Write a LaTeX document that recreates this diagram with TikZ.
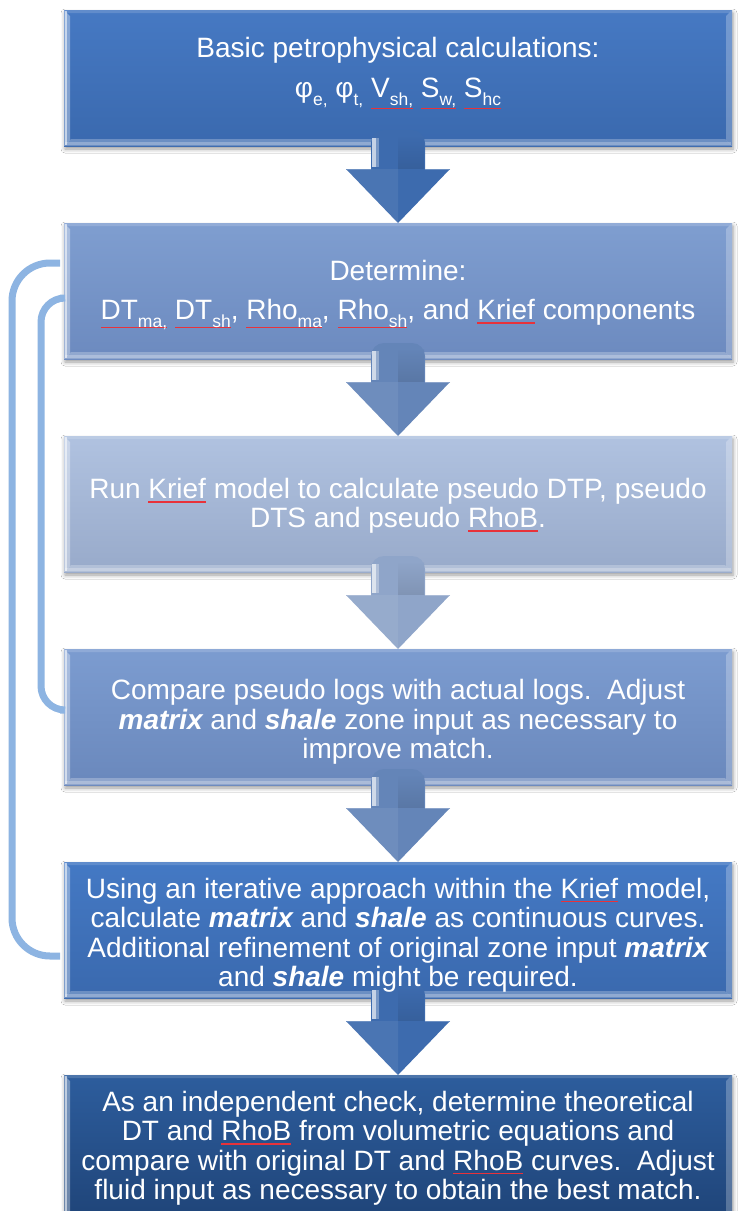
\documentclass[tikz,border=0pt]{standalone}
\usepackage{fontspec}
\setmainfont{Liberation Sans}
\usetikzlibrary{calc,shadows.blur}
\definecolor{bAt}{HTML}{4679C3}\definecolor{bAb}{HTML}{3A69AE}
\definecolor{bBt}{HTML}{7F9ED0}\definecolor{bBb}{HTML}{6C8ABF}
\definecolor{bCt}{HTML}{B0C2E0}\definecolor{bCb}{HTML}{98AACA}
\definecolor{bDt}{HTML}{7C9CD0}\definecolor{bDb}{HTML}{6A88BC}
\definecolor{bEt}{HTML}{4479C4}\definecolor{bEb}{HTML}{3A69AE}
\definecolor{bFt}{HTML}{2D5D9D}\definecolor{bFb}{HTML}{1F4478}
\definecolor{aA}{HTML}{3D6BAE}\definecolor{aB}{HTML}{6485B8}
\definecolor{aC}{HTML}{8FA5C9}
\definecolor{loopblue}{HTML}{8DB4E2}
\definecolor{spell}{HTML}{E8323A}
\newcommand\lowsub[1]{\raisebox{-0.28em}{\fontsize{17.5}{17.5}\selectfont #1}}
\newsavebox\sqbox
\newlength\sqdepth
\newcommand\squig[2][2.5pt]{\sbox\sqbox{#2}\setlength\sqdepth{#1}%
 \rlap{\tikz[baseline=0pt,x=1pt,y=1pt]\fill[spell] (0pt,-\sqdepth) rectangle (\wd\sqbox,-\sqdepth-1.6pt);}\usebox\sqbox}
\newcommand\bi[1]{{\bfseries\itshape #1}}
\newcommand\bevel[1]{%
 \fill[white,opacity=.25] (#1.south west) -- (#1.south east) -- ($(#1.south east)+(-7,7)$) -- ($(#1.south west)+(7,7)$) -- cycle;
 \fill[white,opacity=.25] ($(#1.south west)+(1,1)$) rectangle ($(#1.south east)+(-1,4)$);
 \fill[white,opacity=.15] (#1.north west) -- (#1.north east) -- ($(#1.north east)+(-3,-3)$) -- ($(#1.north west)+(3,-3)$) -- cycle;
 \fill[white,opacity=.25] (#1.north east) -- (#1.south east) -- ($(#1.south east)+(-6,6)$) -- ($(#1.north east)+(-6,-6)$) -- cycle;
 \fill[white,opacity=.35] (#1.north west) -- (#1.south west) -- ($(#1.south west)+(6,6)$) -- ($(#1.north west)+(6,-6)$) -- cycle;
 \fill[white,opacity=.55] ($(#1.north west)+(1,-1)$) rectangle ($(#1.south west)+(3,1)$);}
\newcommand\blockarrow[3]{%
 \fill[#3, rounded corners=13pt] ($(#1.south)+(-27,16)$) rectangle ($(#1.south)+(27,-42)$);
 \shade[left color=#3, right color=#3!80!black, shading angle=0, opacity=.5] ($(#1.south)+(0,10)$) rectangle ($(#1.south)+(26,-23)$);
 \fill[white,opacity=.7] ($(#1.south)+(-26,8)$) rectangle ($(#1.south)+(-22,-21)$);
 \fill[#3!70!white] ($(#1.south)+(-22,8)$) rectangle ($(#1.south)+(-19,-21)$);
 \fill[#3] ($(#1.south)+(-52,-23)$) -- ($(#1.south)+(52,-23)$) -- (#2.north) -- cycle;
 \fill[white,opacity=.07] ($(#1.south)+(-52,-23)$) -- ($(#1.south)+(0,-23)$) -- (#2.north) -- cycle;
 \draw[#3!75!white, line width=1pt] ($(#1.south)+(-52,-23)$) -- ($(#1.south)+(-27,-23)$) ($(#1.south)+(27,-23)$) -- ($(#1.south)+(52,-23)$);}
\tikzset{
 box/.style={rectangle, minimum width=668pt, minimum height=136pt, inner sep=0pt, outer sep=0pt,
   blur shadow={shadow xshift=1pt, shadow yshift=-3pt, shadow blur radius=4pt, shadow opacity=40}},
 txt/.style={text=white, align=center, font=\fontsize{28}{29.5}\selectfont, inner sep=0pt},
 loopline/.style={draw=loopblue, line width=7pt, rounded corners=38pt},
}
\begin{document}
\begin{tikzpicture}[x=1pt,y=1pt]
\useasboundingbox (0,0) rectangle (738,-1211);
\fill[white] (0,0) rectangle (738,-1211);
% boxes
\node[box, top color=bAt, bottom color=bAb] (b1) at (398,-78) {};
\node[box, top color=bBt, bottom color=bBb] (b2) at (398,-291) {};
\node[box, top color=bCt, bottom color=bCb] (b3) at (398,-504) {};
\node[box, top color=bDt, bottom color=bDb] (b4) at (398,-717) {};
\node[box, top color=bEt, bottom color=bEb] (b5) at (398,-930) {};
\node[box, minimum height=146pt, top color=bFt, bottom color=bFb] (b6) at (398,-1148) {};
\foreach \b in {b1,b2,b3,b4,b5,b6}{\bevel{\b}}
% loop brackets
\draw[loopline] ($(b2.west)+(-4,28)$) -- ++(-48,0) |- ($(b5.west)+(-4,-26)$);
\draw[loopline, rounded corners=24pt] ($(b2.west)+(-4,-7)$) -- ++(-19,0) |- ($(b4.west)+(-4,7)$);
% arrows
\blockarrow{b1}{b2}{aA}
\blockarrow{b2}{b3}{aB}
\blockarrow{b3}{b4}{aC}
\blockarrow{b4}{b5}{aB}
\blockarrow{b5}{b6}{aA}
% texts
\node[txt] (t1) at ($(b1)+(0,5)$) {Basic petrophysical calculations:\\[11pt]
 φ\lowsub{e,} φ\lowsub{t,} \squig[10pt]{V\lowsub{sh,}} \squig[10pt]{S\lowsub{w,}} \squig[10pt]{S\lowsub{hc}}};
\node[txt] (t2) at ($(b2)+(0,-4)$) {Determine:\\[10pt]
 \squig[7pt]{DT\lowsub{ma,}} \squig[7pt]{DT\lowsub{sh}}, \squig[7pt]{Rho\lowsub{ma}}, \squig[7pt]{Rho\lowsub{sh}}, and \squig{Krief} components};
\node[txt] (t3) at ($(b3)+(0,-2)$) {Run \squig{Krief} model to calculate pseudo DTP, pseudo\\
 DTS and pseudo \squig{RhoB}.};
\node[txt] (t4) at ($(b4)+(0,-5)$) {Compare pseudo logs with actual logs.\ \ Adjust\\
 \bi{matrix} and \bi{shale} zone input as necessary to\\ improve match.};
\node[txt] (t5) at ($(b5)+(0,-5)$) {Using an iterative approach within the \squig{Krief} model,\\
 calculate \bi{matrix} and \bi{shale} as continuous curves.\\
 Additional refinement of original zone input \bi{matrix}\\
 and \bi{shale} might be required.};
\node[txt] (t6) at (b6) {As an independent check, determine theoretical\\
 DT and \squig{RhoB} from volumetric equations and\\
 compare with original DT and \squig{RhoB} curves.\ \ Adjust\\
 fluid input as necessary to obtain the best match.};
\end{tikzpicture}
\end{document}
